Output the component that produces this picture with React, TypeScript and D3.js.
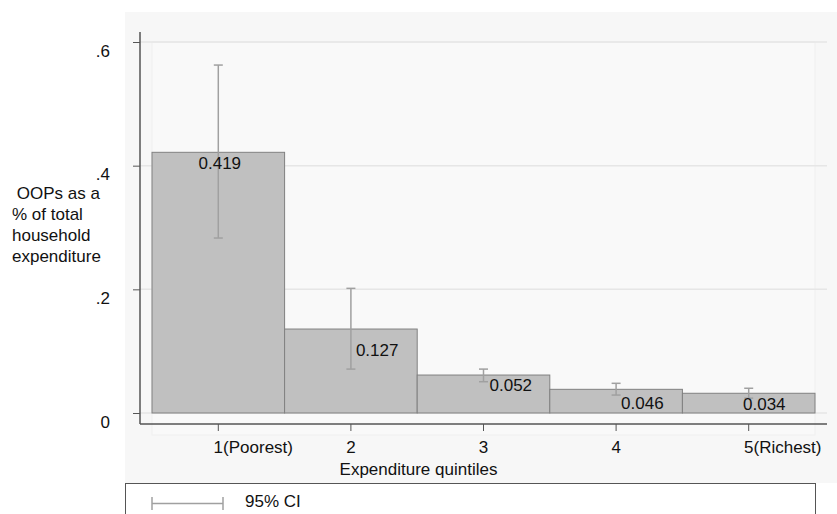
import React, { useEffect, useRef } from "react";
import * as d3 from "d3";

// quintiles
const categories = ["1", "2", "3", "4", "5"];
const tickNames = ["1(Poorest)", "2", "3", "4", "5(Richest)"];
// bar height (mean share) and 95% CI
const meanShare = [0.4216, 0.1358, 0.0614, 0.0383, 0.0319];
const ciLow = [0.283, 0.071, 0.0506, 0.029, 0.024];
const ciHigh = [0.5627, 0.2016, 0.071, 0.048, 0.04];
// printed labels
const labelValues = [0.419, 0.127, 0.052, 0.046, 0.034];
const yTicks = [0, 0.2, 0.4, 0.6];
const yTickLabels = ["0", ".2", ".4", ".6"];
const yTitle = [" OOPs as a", "% of total", "household", "expenditure"];
const xTitle = "Expenditure quintiles";
const legendLabel = "95% CI";

// label nudges relative to the bar centre / bar top
const labelPlace = [
  { anchor: "middle", dx: 1.5, dy: 16.7 },
  { anchor: "start", dx: 5, dy: 27 },
  { anchor: "start", dx: 6, dy: 15.7 },
  { anchor: "start", dx: 5, dy: 19.7 },
  { anchor: "start", dx: -5.7, dy: 16.7 },
];

const FONT = "'Liberation Sans', Arial, sans-serif";

const App = () => {
  const ref = useRef<SVGSVGElement>(null);

  useEffect(() => {
    drawChart();
  }, []);

  const drawChart = () => {
    const width = 837,
      height = 514;
    const axisX = 140,
      axisY = 424,
      axisRight = 827,
      axisTop = 32;

    const svg = d3.select(ref.current).html("");
    svg.attr("width", width).attr("height", height);

    svg.append("rect").attr("width", width).attr("height", height).attr("fill", "#ffffff");
    // graph region
    svg
      .append("rect")
      .attr("x", 125)
      .attr("y", 12)
      .attr("width", width - 125)
      .attr("height", 483 - 12)
      .attr("fill", "#f7f7f7");
    // inner plot region
    svg
      .append("rect")
      .attr("x", 152)
      .attr("y", 42)
      .attr("width", 815 - 152)
      .attr("height", 435 - 42)
      .attr("fill", "#f9f9f9")
      .attr("stroke", "#efefef");

    const x = d3.scaleBand().domain(categories).range([152, 815]).paddingInner(0);
    const y = d3.scaleLinear().domain([0, 0.6]).range([413, 42]);
    const cx = (i: number) => x(categories[i])! + x.bandwidth() / 2;

    // grid
    svg
      .selectAll("line.grid")
      .data(yTicks)
      .join("line")
      .attr("x1", axisX)
      .attr("x2", axisRight)
      .attr("y1", (d) => y(d))
      .attr("y2", (d) => y(d))
      .attr("stroke", "#e6e6e6")
      .attr("stroke-width", 1.5);

    // bars
    svg
      .selectAll("rect.bar")
      .data(meanShare)
      .join("rect")
      .attr("x", (d, i) => x(categories[i])!)
      .attr("y", (d) => y(d))
      .attr("width", x.bandwidth())
      .attr("height", (d) => y(0) - y(d))
      .attr("fill", "#c0c0c0")
      .attr("stroke", "#808080")
      .attr("stroke-width", 1);

    // error bars
    const eb = svg.append("g").attr("stroke", "#a0a0a0").attr("stroke-width", 1.5);
    categories.forEach((c, i) => {
      const xc = cx(i);
      eb.append("line").attr("x1", xc).attr("x2", xc).attr("y1", y(ciLow[i])).attr("y2", y(ciHigh[i]));
      [ciLow[i], ciHigh[i]].forEach((v) => {
        eb.append("line").attr("x1", xc - 4.5).attr("x2", xc + 4.5).attr("y1", y(v)).attr("y2", y(v));
      });
    });

    // value labels
    const fmt = d3.format(".3f");
    svg
      .selectAll("text.val")
      .data(labelValues)
      .join("text")
      .attr("x", (d, i) => cx(i) + labelPlace[i].dx)
      .attr("y", (d, i) => y(meanShare[i]) + labelPlace[i].dy)
      .attr("text-anchor", (d, i) => labelPlace[i].anchor)
      .style("font-family", FONT)
      .style("font-size", "17px")
      .attr("fill", "#111")
      .text((d) => fmt(d));

    // y axis
    const yAxis = svg
      .append("g")
      .attr("transform", `translate(${axisX},0)`)
      .call(
        d3
          .axisLeft(y)
          .tickValues(yTicks)
          .tickSize(7)
          .tickPadding(23)
          .tickFormat((d, i) => yTickLabels[i])
      );
    yAxis.select(".domain").remove();
    yAxis.selectAll(".tick line").attr("stroke", "#555");
    yAxis
      .selectAll(".tick text")
      .attr("dy", 14)
      .attr("fill", "#111")
      .style("font-family", FONT)
      .style("font-size", "17px");
    svg
      .append("line")
      .attr("x1", axisX)
      .attr("x2", axisX)
      .attr("y1", axisTop)
      .attr("y2", axisY)
      .attr("stroke", "#555")
      .attr("stroke-width", 1.5);

    // x axis
    const xAxis = svg
      .append("g")
      .attr("transform", `translate(0,${axisY})`)
      .call(
        d3
          .axisBottom(x)
          .tickSize(7)
          .tickFormat((d, i) => tickNames[i])
      );
    xAxis.select(".domain").remove();
    xAxis.selectAll(".tick line").attr("stroke", "#555");
    xAxis
      .selectAll(".tick text")
      .attr("y", 29)
      .attr("dy", 0)
      .attr("x", -4.7)
      .attr("text-anchor", "start")
      .attr("fill", "#111")
      .style("font-family", FONT)
      .style("font-size", "17px");
    svg
      .append("line")
      .attr("x1", axisX)
      .attr("x2", axisRight)
      .attr("y1", axisY)
      .attr("y2", axisY)
      .attr("stroke", "#555")
      .attr("stroke-width", 1.5);

    svg
      .append("text")
      .attr("x", width / 2)
      .attr("y", 475)
      .attr("text-anchor", "middle")
      .style("font-family", FONT)
      .style("font-size", "17px")
      .attr("fill", "#111")
      .text(xTitle);

    // y title
    const yt = svg
      .append("text")
      .style("font-family", FONT)
      .style("font-size", "17px")
      .style("white-space", "pre")
      .attr("fill", "#111");
    yTitle.forEach((line, i) => {
      yt.append("tspan").attr("x", 12).attr("y", 199 + i * 21).text(line);
    });

    // legend
    svg
      .append("rect")
      .attr("x", 125.5)
      .attr("y", 483.5)
      .attr("width", 690)
      .attr("height", 60)
      .attr("fill", "#ffffff")
      .attr("stroke", "#555");
    const lg = svg.append("g").attr("stroke", "#a0a0a0").attr("stroke-width", 1.5);
    lg.append("line").attr("x1", 152).attr("x2", 223).attr("y1", 503.5).attr("y2", 503.5);
    [152, 223].forEach((lx) => {
      lg.append("line").attr("x1", lx).attr("x2", lx).attr("y1", 497).attr("y2", 510);
    });
    svg
      .append("text")
      .attr("x", 245)
      .attr("y", 507)
      .style("font-family", FONT)
      .style("font-size", "17px")
      .attr("fill", "#111")
      .text(legendLabel);
  };

  return (
    <>
      <style>{"body{margin:0}"}</style>
      <svg ref={ref} style={{ display: "block" }}></svg>
    </>
  );
};

export default App;
